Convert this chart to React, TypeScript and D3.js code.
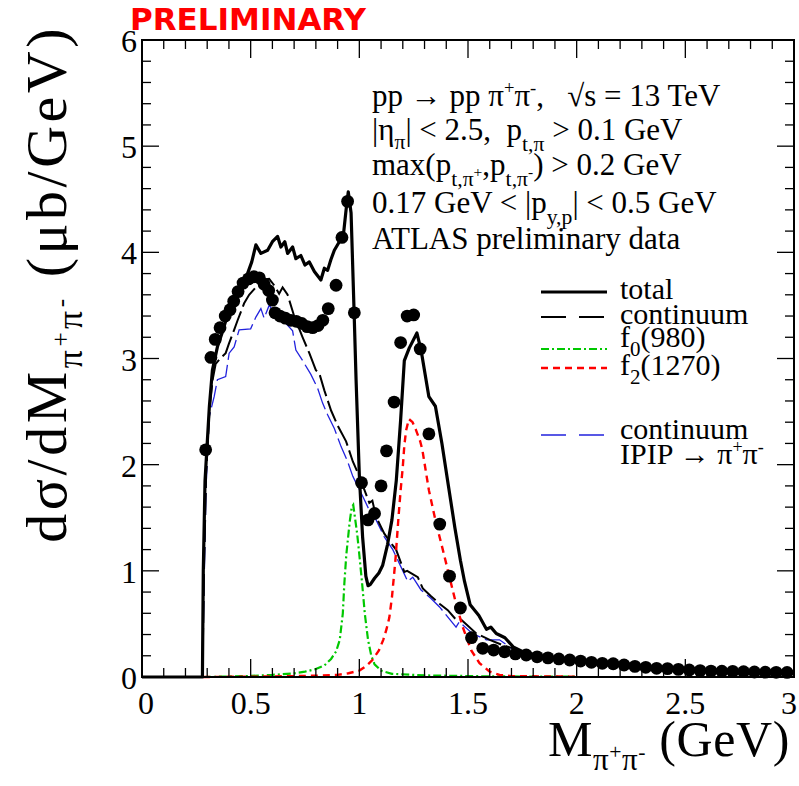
import React from 'react';
import * as d3 from 'd3';

const W = 799, H = 786;
const PL = 142, PR = 794, PT = 40, PB = 677;

const xMajor = [0, 0.5, 1, 1.5, 2, 2.5, 3];
const xLabels = ['0', '0.5', '1', '1.5', '2', '2.5', '3'];
const yMajor = [0, 1, 2, 3, 4, 5, 6];
const yLabels = ['0', '1', '2', '3', '4', '5', '6'];

// ATLAS preliminary data points [M (GeV), dsigma/dM (ub/GeV)]
const dataPoints: [number, number][] = [
  [0.293, 2.14], [0.317, 3.01], [0.337, 3.18], [0.359, 3.29], [0.383, 3.40], [0.405, 3.46],
  [0.422, 3.54], [0.442, 3.63], [0.465, 3.71], [0.49, 3.75], [0.515, 3.77], [0.54, 3.76],
  [0.562, 3.70], [0.583, 3.64], [0.600, 3.55], [0.612, 3.43], [0.635, 3.40], [0.66, 3.38],
  [0.685, 3.36], [0.71, 3.35], [0.735, 3.33], [0.76, 3.30], [0.785, 3.29], [0.81, 3.31],
  [0.832, 3.36], [0.857, 3.47], [0.893, 3.69], [0.92, 4.14], [0.946, 4.48], [0.977, 3.43],
  [1.01, 1.83], [1.04, 1.48], [1.07, 1.54], [1.10, 1.80], [1.125, 2.13], [1.16, 2.59],
  [1.19, 3.15], [1.22, 3.40], [1.25, 3.41], [1.28, 3.09], [1.32, 2.29], [1.37, 1.44],
  [1.415, 0.95], [1.465, 0.65], [1.516, 0.37], [1.568, 0.27], [1.618, 0.254], [1.668, 0.238],
  [1.718, 0.217], [1.768, 0.207], [1.818, 0.19], [1.868, 0.18], [1.918, 0.17], [1.968, 0.16],
  [2.018, 0.15], [2.068, 0.138], [2.118, 0.129], [2.168, 0.125], [2.218, 0.113], [2.268, 0.10],
  [2.318, 0.091], [2.368, 0.082], [2.418, 0.079], [2.468, 0.072], [2.518, 0.066], [2.568, 0.06],
  [2.618, 0.056], [2.668, 0.055], [2.718, 0.053], [2.768, 0.05], [2.818, 0.047], [2.868, 0.045],
  [2.918, 0.044], [2.968, 0.043],
];

const totalCurve: [number, number][] = [
  [0, 0], [0.278, 0], [0.282, 1.0], [0.29, 1.85], [0.3, 2.2], [0.31, 2.55], [0.324, 2.89],
  [0.347, 3.11], [0.37, 3.25], [0.386, 3.36], [0.41, 3.45], [0.438, 3.58], [0.46, 3.70],
  [0.484, 3.79], [0.505, 3.91], [0.524, 4.07], [0.547, 3.99], [0.578, 4.02], [0.60, 4.10],
  [0.624, 4.15], [0.639, 4.05], [0.657, 4.10], [0.67, 3.99], [0.693, 4.05], [0.708, 3.94],
  [0.731, 3.97], [0.75, 3.88], [0.77, 3.91], [0.793, 3.82], [0.823, 3.74], [0.839, 3.85],
  [0.854, 3.83], [0.869, 3.93], [0.885, 4.02], [0.908, 4.10], [0.926, 4.15], [0.939, 4.40],
  [0.949, 4.57], [0.962, 4.37], [0.975, 3.5], [0.985, 2.8], [1.0, 1.9], [1.015, 1.32],
  [1.03, 0.95], [1.04, 0.86], [1.05, 0.87], [1.07, 0.93], [1.09, 0.98], [1.107, 1.05],
  [1.13, 1.25], [1.15, 1.48], [1.17, 1.85], [1.19, 2.42], [1.207, 2.98], [1.23, 3.10],
  [1.265, 3.24], [1.284, 3.08], [1.32, 2.64], [1.35, 2.55], [1.38, 2.2], [1.41, 1.8],
  [1.44, 1.4], [1.465, 1.1], [1.484, 0.9], [1.51, 0.68], [1.55, 0.58], [1.585, 0.45],
  [1.605, 0.47], [1.63, 0.41], [1.67, 0.37], [1.71, 0.28], [1.75, 0.24],
];

const continuumCurve: [number, number][] = [
  [0.278, 0], [0.285, 1.0], [0.295, 1.9], [0.31, 2.5], [0.325, 2.8], [0.339, 2.95], [0.36, 3.0],
  [0.385, 3.05], [0.40, 3.14], [0.424, 3.27], [0.44, 3.36], [0.47, 3.52], [0.493, 3.60],
  [0.524, 3.67], [0.547, 3.74], [0.585, 3.75], [0.608, 3.69], [0.631, 3.61], [0.647, 3.67],
  [0.67, 3.60], [0.70, 3.40], [0.739, 3.20], [0.77, 3.05], [0.80, 2.89], [0.816, 2.86],
  [0.839, 2.70], [0.87, 2.51], [0.90, 2.37], [0.939, 2.22], [0.97, 2.03], [1.0, 1.89],
  [1.046, 1.64], [1.06, 1.66], [1.077, 1.51], [1.115, 1.35], [1.146, 1.26], [1.169, 1.20],
  [1.207, 0.99], [1.22, 1.0], [1.269, 0.94], [1.292, 0.835], [1.33, 0.76], [1.369, 0.69],
  [1.407, 0.63], [1.445, 0.54], [1.469, 0.54], [1.538, 0.41], [1.6, 0.35], [1.66, 0.30],
  [1.707, 0.27], [1.75, 0.24],
];

const ipipCurve: [number, number][] = [
  [0.278, 0], [0.285, 0.8], [0.295, 1.8], [0.309, 2.45], [0.332, 2.64], [0.347, 2.80],
  [0.385, 2.83], [0.401, 3.05], [0.424, 3.11], [0.447, 3.27], [0.50, 3.28], [0.524, 3.39],
  [0.547, 3.47], [0.562, 3.38], [0.585, 3.50], [0.60, 3.46], [0.64, 3.38], [0.693, 3.26],
  [0.708, 3.08], [0.739, 2.98], [0.777, 2.85], [0.808, 2.72], [0.831, 2.58], [0.854, 2.47],
  [0.885, 2.34], [0.916, 2.17], [0.946, 2.03], [0.97, 1.89], [1.016, 1.70], [1.046, 1.57],
  [1.077, 1.48], [1.115, 1.32], [1.154, 1.20], [1.184, 1.07], [1.223, 0.90], [1.246, 0.94],
  [1.284, 0.82], [1.33, 0.74], [1.369, 0.66], [1.445, 0.47], [1.46, 0.52], [1.52, 0.41],
  [1.584, 0.35], [1.645, 0.35], [1.70, 0.27], [1.75, 0.24],
];

const f0Curve: [number, number][] = [
  [0.28, 0], [0.4, 0.005], [0.5, 0.01], [0.6, 0.02], [0.7, 0.035], [0.75, 0.05], [0.8, 0.075],
  [0.84, 0.11], [0.87, 0.17], [0.893, 0.24], [0.91, 0.35], [0.924, 0.6], [0.931, 0.88],
  [0.94, 1.15], [0.955, 1.45], [0.965, 1.6], [0.972, 1.62], [0.98, 1.5], [0.99, 1.35],
  [1.0, 1.15], [1.012, 0.9], [1.025, 0.6], [1.04, 0.35], [1.055, 0.2], [1.07, 0.12],
  [1.1, 0.06], [1.15, 0.03], [1.3, 0.015], [1.6, 0.006], [2.0, 0.003],
];

const f2Curve: [number, number][] = [
  [0.28, 0], [0.6, 0.005], [0.8, 0.012], [0.9, 0.02], [0.95, 0.035], [1.0, 0.06], [1.03, 0.1],
  [1.06, 0.16], [1.09, 0.25], [1.11, 0.35], [1.125, 0.45], [1.138, 0.56], [1.15, 0.75],
  [1.166, 1.1], [1.18, 1.5], [1.19, 1.76], [1.2, 1.98], [1.207, 2.18], [1.215, 2.32],
  [1.228, 2.43], [1.245, 2.40], [1.26, 2.33], [1.28, 2.22], [1.29, 2.14], [1.305, 1.95],
  [1.32, 1.76], [1.353, 1.45], [1.384, 1.2], [1.415, 0.94], [1.445, 0.69], [1.476, 0.47],
  [1.515, 0.25], [1.553, 0.13], [1.6, 0.05], [1.645, 0.02], [1.7, 0.008], [2.0, 0.003],
];

const SERIF = "'Liberation Serif', 'Times New Roman', 'DejaVu Serif', serif";

type Seg = { t: string; s?: number; b?: number };

function Rich(props: { x: number; y: number; size: number; segs: Seg[]; anchor?: string; transform?: string; spacing?: number }) {
  const { x, y, size, segs, anchor, transform, spacing } = props;
  let cur = 0;
  return (
    <text x={x} y={y} fontSize={size} textAnchor={anchor || 'start'} transform={transform}
      fontFamily={SERIF} fill="#000" style={{ whiteSpace: 'pre', letterSpacing: spacing ? `${spacing}px` : undefined }}>
      {segs.map((sg, i) => {
        const b = sg.b ?? cur;
        const dy = (b - cur) * size;
        cur = b;
        return <tspan key={i} dy={dy} fontSize={size * (sg.s ?? 1)}>{sg.t}</tspan>;
      })}
    </text>
  );
}

const pipiSub = (s: number): Seg[] => [
  { t: 'π', s: s, b: 0.28 }, { t: '+', s: s * 0.7, b: 0.05 }, { t: 'π', s: s, b: 0.28 }, { t: '-', s: s * 0.7, b: 0.05 },
];

export default function App() {
  const x = d3.scaleLinear().domain([0, 3]).range([PL, PR]);
  const y = d3.scaleLinear().domain([0, 6]).range([PB, PT]);
  const line = d3.line<[number, number]>().x(d => x(d[0])).y(d => y(d[1]));

  const xMinor = d3.range(0, 3.0001, 0.1).filter(v => !xMajor.some(m => Math.abs(m - v) < 1e-6));
  const yMinor = d3.range(0, 6.0001, 0.2).filter(v => !yMajor.some(m => Math.abs(m - v) < 1e-6));

  const textX = 372;
  const txt = 31;
  const info: Seg[][] = [
    [{ t: 'pp → pp π' }, { t: '+', s: 0.6, b: -0.38 }, { t: 'π', s: 1, b: 0 }, { t: '-', s: 0.6, b: -0.38 }, { t: ',   √s = 13 TeV', s: 1, b: 0 }],
    [{ t: '|η' }, { t: 'π', s: 0.7, b: 0.3 }, { t: '| < 2.5,  p', s: 1, b: 0 }, { t: 't,π', s: 0.7, b: 0.35 }, { t: ' > 0.1 GeV', s: 1, b: 0 }],
    [{ t: 'max(p' }, { t: 't,π', s: 0.7, b: 0.35 }, { t: '+', s: 0.5, b: 0.05 }, { t: ',p', s: 1, b: 0 }, { t: 't,π', s: 0.7, b: 0.35 }, { t: '-', s: 0.5, b: 0.05 }, { t: ') > 0.2 GeV', s: 1, b: 0 }],
    [{ t: '0.17 GeV < |p' }, { t: 'y,p', s: 0.7, b: 0.35 }, { t: '| < 0.5 GeV', s: 1, b: 0 }],
    [{ t: 'ATLAS preliminary data' }],
  ];
  const infoY = [106, 140, 175, 213, 249];

  const lgX0 = 541, lgX1 = 607, lgT = 620;
  const lgTxt = 30;

  return (
    <svg width={W} height={H} viewBox={`0 0 ${W} ${H}`} style={{ position: 'absolute', left: 0, top: 0, background: '#fff' }}>
      <rect x={0} y={0} width={W} height={H} fill="#fff" />
      {/* curves */}
      <path d={line(ipipCurve) || ''} fill="none" stroke="#2222dd" strokeWidth={1.3} strokeDasharray="22 5" />
      <path d={line(continuumCurve) || ''} fill="none" stroke="#000" strokeWidth={2} strokeDasharray="22 5" />
      <path d={line(f0Curve) || ''} fill="none" stroke="#00c800" strokeWidth={2.2} strokeDasharray="8 3 2 3" />
      <path d={line(f2Curve) || ''} fill="none" stroke="#ff0000" strokeWidth={2.4} strokeDasharray="7 5" />
      <path d={line(totalCurve) || ''} fill="none" stroke="#000" strokeWidth={3.2} strokeLinejoin="round" />
      {dataPoints.map((d, i) => (
        <circle key={i} cx={x(d[0])} cy={y(d[1])} r={6.4} fill="#000" />
      ))}

      {/* frame */}
      <rect x={PL} y={PT} width={PR - PL} height={PB - PT} fill="none" stroke="#000" strokeWidth={2} />
      {xMajor.map((v, i) => (
        <g key={'xM' + i}>
          <line x1={x(v)} x2={x(v)} y1={PB} y2={PB - 18} stroke="#000" strokeWidth={1.3} />
          <line x1={x(v)} x2={x(v)} y1={PT} y2={PT + 18} stroke="#000" strokeWidth={1.3} />
        </g>
      ))}
      {xMinor.map((v, i) => (
        <g key={'xm' + i}>
          <line x1={x(v)} x2={x(v)} y1={PB} y2={PB - 9} stroke="#000" strokeWidth={1.3} />
          <line x1={x(v)} x2={x(v)} y1={PT} y2={PT + 9} stroke="#000" strokeWidth={1.3} />
        </g>
      ))}
      {yMajor.map((v, i) => (
        <g key={'yM' + i}>
          <line x1={PL} x2={PL + 17} y1={y(v)} y2={y(v)} stroke="#000" strokeWidth={1.3} />
          <line x1={PR} x2={PR - 17} y1={y(v)} y2={y(v)} stroke="#000" strokeWidth={1.3} />
        </g>
      ))}
      {yMinor.map((v, i) => (
        <g key={'ym' + i}>
          <line x1={PL} x2={PL + 9} y1={y(v)} y2={y(v)} stroke="#000" strokeWidth={1.3} />
          <line x1={PR} x2={PR - 9} y1={y(v)} y2={y(v)} stroke="#000" strokeWidth={1.3} />
        </g>
      ))}
      {xMajor.map((v, i) => (
        <text key={'xl' + i} x={Math.min(x(v) + (i === 0 ? 4 : 0), W - 10)} y={714} fontSize={32} fontFamily={SERIF} textAnchor="middle">{xLabels[i]}</text>
      ))}
      {yMajor.map((v, i) => (
        <text key={'yl' + i} x={137} y={y(v) + 12} fontSize={32} fontFamily={SERIF} textAnchor="end">{yLabels[i]}</text>
      ))}

      {/* axis titles */}
      <Rich x={790} y={756} size={50} anchor="end" spacing={0.6}
        segs={[{ t: 'M' }, ...pipiSub(0.62), { t: ' (GeV)', s: 1, b: 0 }]} />
      <Rich x={0} y={0} size={58} anchor="end" spacing={3.5} transform="translate(66,25) rotate(-90)"
        segs={[{ t: 'dσ/dM' }, ...pipiSub(0.62), { t: ' (μb/GeV)', s: 1, b: 0 }]} />

      {/* info text */}
      {info.map((segs, i) => (
        <Rich key={'info' + i} x={textX} y={infoY[i]} size={txt} segs={segs} />
      ))}

      {/* legend */}
      <line x1={lgX0} x2={lgX1} y1={292} y2={292} stroke="#000" strokeWidth={3.2} />
      <Rich x={lgT} y={299} size={lgTxt} segs={[{ t: 'total' }]} />
      <line x1={lgX0} x2={lgX1} y1={317} y2={317} stroke="#000" strokeWidth={2} strokeDasharray="25 13" />
      <Rich x={lgT} y={324} size={lgTxt} segs={[{ t: 'continuum' }]} />
      <line x1={lgX0} x2={lgX1} y1={349} y2={349} stroke="#00c800" strokeWidth={2.2} strokeDasharray="8 3 2 3" />
      <Rich x={lgT} y={347} size={lgTxt} segs={[{ t: 'f' }, { t: '0', s: 0.7, b: 0.3 }, { t: '(980)', s: 1, b: 0 }]} />
      <line x1={lgX0} x2={lgX1} y1={368} y2={368} stroke="#ff0000" strokeWidth={2.4} strokeDasharray="7 5" />
      <Rich x={lgT} y={375} size={lgTxt} segs={[{ t: 'f' }, { t: '2', s: 0.7, b: 0.3 }, { t: '(1270)', s: 1, b: 0 }]} />
      <line x1={lgX0} x2={lgX1} y1={435} y2={435} stroke="#2222dd" strokeWidth={1.3} strokeDasharray="25 13" />
      <Rich x={lgT} y={439} size={lgTxt} segs={[{ t: 'continuum' }]} />
      <Rich x={lgT} y={464} size={lgTxt} segs={[{ t: 'IPIP → π' }, { t: '+', s: 0.6, b: -0.38 }, { t: 'π', s: 1, b: 0 }, { t: '-', s: 0.6, b: -0.38 }]} />

      {/* PRELIMINARY */}
      <text x={130} y={30} fontSize={31} fontWeight="bold" fontFamily="'DejaVu Sans', sans-serif" fill="#ff0000">PRELIMINARY</text>
    </svg>
  );
}
